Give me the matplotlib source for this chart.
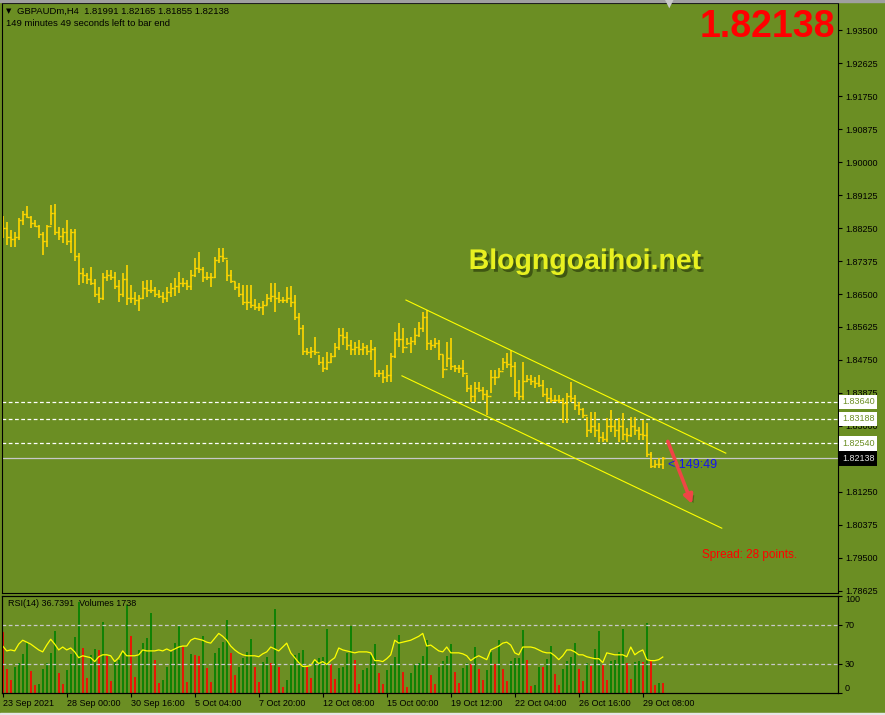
import numpy as np
import matplotlib
matplotlib.use("Agg")
import matplotlib.pyplot as plt
from matplotlib import patheffects
from matplotlib.patches import Rectangle

plt.rcParams['font.family'] = ['Liberation Sans', 'DejaVu Sans']

# GBPAUDm H4 bars (bar index 0 = 23 Sep 2021)
highs = [
    1.8857, 1.8841, 1.8820, 1.8814, 1.8852, 1.8870, 1.8883, 1.8857, 1.8846, 1.8833,
    1.8814, 1.8833, 1.8886, 1.8889, 1.8828, 1.8825, 1.8846, 1.8822, 1.8822, 1.8759,
    1.8719, 1.8706, 1.8722, 1.8690, 1.8669, 1.8706, 1.8714, 1.8714, 1.8708, 1.8687,
    1.8706, 1.8727, 1.8674, 1.8655, 1.8647, 1.8684, 1.8687, 1.8687, 1.8669, 1.8661,
    1.8655, 1.8669, 1.8679, 1.8692, 1.8708, 1.8692, 1.8687, 1.8714, 1.8746, 1.8761,
    1.8722, 1.8708, 1.8706, 1.8748, 1.8772, 1.8772, 1.8740, 1.8714, 1.8682, 1.8679,
    1.8674, 1.8674, 1.8674, 1.8637, 1.8626, 1.8631, 1.8650, 1.8679, 1.8679, 1.8655,
    1.8642, 1.8669, 1.8671, 1.8647, 1.8600, 1.8568, 1.8507, 1.8509, 1.8536, 1.8488,
    1.8483, 1.8496, 1.8494, 1.8520, 1.8560, 1.8560, 1.8549, 1.8528, 1.8523, 1.8528,
    1.8520, 1.8515, 1.8528, 1.8509, 1.8449, 1.8449, 1.8462, 1.8494, 1.8549, 1.8573,
    1.8560, 1.8533, 1.8536, 1.8560, 1.8576, 1.8602, 1.8608, 1.8528, 1.8533, 1.8528,
    1.8488, 1.8523, 1.8533, 1.8462, 1.8462, 1.8475, 1.8435, 1.8409, 1.8417, 1.8417,
    1.8403, 1.8395, 1.8449, 1.8449, 1.8454, 1.8480, 1.8494, 1.8502, 1.8470, 1.8422,
    1.8470, 1.8435, 1.8435, 1.8430, 1.8435, 1.8422, 1.8401, 1.8401, 1.8382, 1.8382,
    1.8374, 1.8387, 1.8417, 1.8382, 1.8364, 1.8348, 1.8324, 1.8337, 1.8337, 1.8308,
    1.8284, 1.8321, 1.8342, 1.8316, 1.8321, 1.8334, 1.8295, 1.8324, 1.8324, 1.8297,
    1.8316, 1.8308, 1.8231, 1.8210, 1.8215, 1.82165,
]
lows = [
    1.8799, 1.8780, 1.8775, 1.8775, 1.8793, 1.8833, 1.8852, 1.8825, 1.8828, 1.8799,
    1.8753, 1.8775, 1.8833, 1.8806, 1.8793, 1.8785, 1.8780, 1.8759, 1.8738, 1.8674,
    1.8679, 1.8677, 1.8674, 1.8642, 1.8626, 1.8634, 1.8684, 1.8687, 1.8663, 1.8629,
    1.8642, 1.8621, 1.8626, 1.8621, 1.8605, 1.8637, 1.8642, 1.8653, 1.8642, 1.8639,
    1.8626, 1.8629, 1.8642, 1.8645, 1.8653, 1.8669, 1.8661, 1.8661, 1.8695, 1.8706,
    1.8682, 1.8687, 1.8669, 1.8692, 1.8732, 1.8735, 1.8684, 1.8679, 1.8661, 1.8642,
    1.8621, 1.8608, 1.8613, 1.8608, 1.8605, 1.8594, 1.8621, 1.8629, 1.8602, 1.8626,
    1.8626, 1.8626, 1.8616, 1.8581, 1.8541, 1.8488, 1.8488, 1.8480, 1.8488, 1.8462,
    1.8443, 1.8449, 1.8467, 1.8483, 1.8502, 1.8515, 1.8502, 1.8488, 1.8488, 1.8488,
    1.8488, 1.8488, 1.8475, 1.8430, 1.8430, 1.8414, 1.8417, 1.8417, 1.8480, 1.8509,
    1.8494, 1.8515, 1.8494, 1.8515, 1.8536, 1.8549, 1.8502, 1.8502, 1.8507, 1.8475,
    1.8427, 1.8456, 1.8449, 1.8443, 1.8441, 1.8430, 1.8390, 1.8364, 1.8364, 1.8390,
    1.8369, 1.8329, 1.8387, 1.8409, 1.8430, 1.8449, 1.8454, 1.8430, 1.8377, 1.8369,
    1.8369, 1.8417, 1.8409, 1.8401, 1.8403, 1.8377, 1.8364, 1.8361, 1.8364, 1.8361,
    1.8308, 1.8308, 1.8364, 1.8342, 1.8329, 1.8321, 1.8271, 1.8281, 1.8271, 1.8258,
    1.8258, 1.8258, 1.8284, 1.8271, 1.8258, 1.8263, 1.8258, 1.8271, 1.8276, 1.8263,
    1.8263, 1.8218, 1.8189, 1.8189, 1.8189, 1.81855,
]
closes = [
    1.8825, 1.8800, 1.8795, 1.8800, 1.8845, 1.8862, 1.8855, 1.8838, 1.8830, 1.8810,
    1.8790, 1.8830, 1.8865, 1.8815, 1.8805, 1.8815, 1.8790, 1.8815, 1.8750, 1.8705,
    1.8700, 1.8690, 1.8680, 1.8650, 1.8640, 1.8695, 1.8700, 1.8695, 1.8670, 1.8650,
    1.8690, 1.8640, 1.8640, 1.8635, 1.8640, 1.8665, 1.8660, 1.8660, 1.8650, 1.8645,
    1.8640, 1.8655, 1.8665, 1.8670, 1.8680, 1.8680, 1.8670, 1.8700, 1.8720, 1.8715,
    1.8695, 1.8695, 1.8695, 1.8740, 1.8750, 1.8745, 1.8700, 1.8685, 1.8668, 1.8650,
    1.8630, 1.8630, 1.8620, 1.8615, 1.8615, 1.8620, 1.8640, 1.8645, 1.8640, 1.8635,
    1.8635, 1.8640, 1.8630, 1.8590, 1.8560, 1.8500, 1.8495, 1.8500, 1.8495, 1.8470,
    1.8455, 1.8470, 1.8485, 1.8510, 1.8540, 1.8535, 1.8515, 1.8505, 1.8510, 1.8505,
    1.8510, 1.8500, 1.8505, 1.8440, 1.8440, 1.8430, 1.8435, 1.8485, 1.8530, 1.8530,
    1.8510, 1.8520, 1.8525, 1.8540, 1.8560, 1.8590, 1.8520, 1.8515, 1.8520, 1.8490,
    1.8450, 1.8480, 1.8460, 1.8455, 1.8455, 1.8440, 1.8400, 1.8380, 1.8400, 1.8395,
    1.8385, 1.8380, 1.8430, 1.8430, 1.8445, 1.8470, 1.8465, 1.8460, 1.8390, 1.8380,
    1.8420, 1.8425, 1.8420, 1.8415, 1.8410, 1.8385, 1.8375, 1.8370, 1.8370, 1.8370,
    1.8360, 1.8380, 1.8375, 1.8355, 1.8345, 1.8330, 1.8290, 1.8300, 1.8290, 1.8270,
    1.8265, 1.8300, 1.8300, 1.8290, 1.8300, 1.8280, 1.8275, 1.8300, 1.8290, 1.8280,
    1.8275, 1.8225, 1.8195, 1.8200, 1.81991, 1.82138,
]
first_open = 1.8830

rsi = [
    48, 43, 44, 43, 50, 54, 52, 50, 47, 44,
    42, 49, 55, 50, 44, 47, 44, 46, 42, 36,
    38, 37, 36, 32, 37, 39, 39, 38, 32, 36,
    43, 38, 38, 38, 39, 44, 43, 43, 43, 44,
    43, 45, 43, 45, 47, 48, 48, 54, 56, 55,
    54, 52, 51, 56, 61, 58, 54, 48, 44, 41,
    39, 38, 38, 38, 37, 40, 42, 47, 45, 43,
    47, 51, 41, 36, 31, 27, 27, 28, 34, 30,
    32, 29, 33, 36, 46, 44, 43, 42, 41, 42,
    42, 42, 41, 33, 33, 32, 35, 39, 54, 51,
    52, 53, 54, 56, 58, 61, 48, 49, 46, 43,
    42, 47, 41, 41, 41, 40, 38, 33, 36, 38,
    36, 34, 44, 46, 48, 51, 52, 49, 41, 39,
    47, 47, 47, 46, 44, 42, 41, 41, 38, 34,
    38, 44, 44, 42, 39, 39, 37, 36, 35, 35,
    31, 41, 40, 39, 39, 39, 37, 47, 39, 42,
    44, 34, 33, 33, 34, 36.7391,
]
volumes = [
    11400, 4420, 2370, 4730, 5480, 7230, 9530, 4050, 1430, 1620,
    4420, 5480, 7350, 11530, 3740, 1620, 4240, 7230, 10340, 17010,
    8290, 2800, 7040, 8100, 7970, 13270, 6850, 2240, 5790, 6110,
    7660, 16390, 10590, 2870, 7970, 9220, 10150, 14830, 6110, 1740,
    2370, 4860, 7660, 9220, 12460, 8600, 2060, 7230, 7100, 6850,
    10590, 4550, 2060, 7480, 8290, 9530, 13580, 7480, 3300, 4730,
    6420, 7660, 9970, 4730, 2060, 5790, 6730, 5480, 15580, 4730,
    1120, 2370, 5170, 7040, 7350, 7970, 4980, 2680, 6110, 6420,
    6730, 11840, 5360, 2490, 4550, 4730, 7350, 12460, 6110, 1620,
    4240, 4550, 7040, 9100, 3610, 1620, 4240, 5170, 6730, 10780,
    3920, 1000, 3610, 5170, 5610, 6850, 9840, 3300, 1620, 4730,
    5980, 6850, 9100, 3920, 1740, 4550, 5480, 5360, 8470, 4420,
    2370, 4240, 7660, 5360, 9840, 4420, 2240, 5920, 6420, 6540,
    11710, 6110, 1250, 1430, 4860, 4730, 6290, 8720, 3490, 1430,
    4420, 5920, 6600, 9350, 4420, 2180, 5480, 4980, 8160, 11530,
    5170, 2370, 5920, 6110, 7660, 12020, 5610, 2550, 5790, 5920,
    5790, 13080, 5920, 1430, 1800, 1738,
]

date_idx = [0, 16, 32, 48, 64, 80, 96, 112, 128, 144, 160]
date_labels = ["23 Sep 2021", "28 Sep 00:00", "30 Sep 16:00", "5 Oct 04:00", "7 Oct 20:00",
               "12 Oct 08:00", "15 Oct 00:00", "19 Oct 12:00", "22 Oct 04:00",
               "26 Oct 16:00", "29 Oct 08:00"]
# 1.82125 sits under the bid label, so it gets a tick but no text
price_ticks = [1.93500, 1.92625, 1.91750, 1.90875, 1.90000, 1.89125, 1.88250, 1.87375,
               1.86500, 1.85625, 1.84750, 1.83875, 1.83000, 1.82125, 1.81250, 1.80375,
               1.79500, 1.78625]
hidden_tick = 1.82125
levels = [1.83640, 1.83188, 1.82540]
upper_channel = ([100.8, 180.75], [1.8634, 1.8228])
lower_channel = ([99.8, 179.75], [1.8433, 1.8029])
arrow_start = (166.0, 1.8266)
arrow_end = (172.6, 1.8086)

BG = "#6B8E23"
W, H = 885, 715


def fx(x):
    return x / W


def fy(y):
    return 1 - y / H


def style_axes(ax):
    ax.set_facecolor(BG)
    for sp in ax.spines.values():
        sp.set_color("black")
        sp.set_linewidth(0.8)


def draw_price(ax):
    n = len(closes)
    x = np.arange(n)
    opens = np.r_[first_open, closes[:-1]]
    bar_col = "#FFD700"
    ax.vlines(x, lows, highs, color=bar_col, lw=1.2)
    ax.hlines(opens, x - 0.45, x, color=bar_col, lw=1.0)
    ax.hlines(closes, x, x + 0.45, color=bar_col, lw=1.0)

    for lvl in levels:
        ax.axhline(lvl, color="white", lw=0.9, ls=(0, (3, 2)), zorder=1)
    ax.axhline(closes[-1], color="#C8C8C8", lw=0.9, zorder=1)

    ax.plot(*upper_channel, color="#FFFF00", lw=0.8)
    ax.plot(*lower_channel, color="#FFFF00", lw=0.8)

    ax.annotate("", xy=arrow_end, xytext=arrow_start,
                arrowprops=dict(arrowstyle="-|>", color="#F04545", lw=2.6, mutation_scale=13,
                                path_effects=[patheffects.withSimplePatchShadow(
                                    offset=(2, -2), shadow_rgbFace="#2E4410", alpha=0.5)]))
    ax.annotate("< 149:49", xy=(n - 1, closes[-1]), xytext=(5, -7), textcoords="offset pixels",
                ha="left", va="center", fontsize=9, color="#1414F0")

    ax.set_xlim(-0.25, 208.8)
    ax.set_ylim(1.78571, 1.94209)
    ax.set_xticks([])
    ax.yaxis.tick_right()
    ax.set_yticks(price_ticks)
    ax.set_yticklabels(["" if t == hidden_tick else f"{t:.5f}" for t in price_ticks])
    ax.tick_params(axis="y", direction="out", length=3, width=0.8, pad=2,
                   labelsize=6.5, colors="black")

    for lvl in levels:
        ax.annotate(f"{lvl:.5f}", xy=(1, lvl), xycoords=ax.get_yaxis_transform(),
                    xytext=(4, 0), textcoords="offset pixels", ha="left", va="center",
                    fontsize=6.5, color=BG, annotation_clip=False, zorder=10,
                    bbox=dict(boxstyle="square,pad=0.3", fc="white", ec="none"))
    ax.annotate(f"{closes[-1]:.5f}", xy=(1, closes[-1]), xycoords=ax.get_yaxis_transform(),
                xytext=(4, 0), textcoords="offset pixels", ha="left", va="center",
                fontsize=6.5, color="#E0E0E0", annotation_clip=False, zorder=10,
                bbox=dict(boxstyle="square,pad=0.3", fc="black", ec="none"))


def draw_rsi(ax):
    n = len(volumes)
    x = np.arange(n)
    vol = np.array(volumes)
    up = np.r_[False, vol[1:] > vol[:-1]]
    cols = np.where(up, "#008000", "#FF0000")
    ax.vlines(x, 0, vol, colors=cols, lw=1.2)
    ax.set_ylim(0, 18200)
    ax.set_yticks([])
    ax.set_xlim(-0.25, 208.8)
    ax.set_xticks(date_idx)
    ax.set_xticklabels(date_labels, ha="left")
    ax.tick_params(axis="x", direction="out", length=3, width=0.8, pad=1.5,
                   labelsize=6.5, colors="black")

    ar = ax.twinx()
    ar.plot(x, rsi, color="#FFFF00", lw=0.9)
    for lv in (30, 70):
        ar.axhline(lv, color="#C8C8C8", lw=0.9, ls=(0, (3, 2)))
    ar.set_ylim(0, 100)
    ar.set_yticks([0, 30, 70, 100])
    ar.set_yticklabels(["0", "30", "70", "100"])
    ar.tick_params(axis="y", direction="out", length=3, width=0.8, pad=2,
                   labelsize=6.5, colors="black")
    for lbl in ar.get_yticklabels():
        if lbl.get_text() == "100":
            lbl.set_va("top")
        elif lbl.get_text() == "0":
            lbl.set_va("bottom")
    for sp in ar.spines.values():
        sp.set_color("black")
        sp.set_linewidth(0.8)

    ax.text(0.007, 0.92, f"RSI(14) {rsi[-1]:.4f}  Volumes {volumes[-1]}",
            transform=ax.transAxes, fontsize=6.5, va="center", ha="left")


def main():
    fig = plt.figure(figsize=(W / 100, H / 100), dpi=100, facecolor=BG)

    ax = fig.add_axes([fx(1.7), fy(593), fx(838) - fx(1.7), fy(3.3) - fy(593)])
    style_axes(ax)
    draw_price(ax)

    ax_rsi = fig.add_axes([fx(1.7), fy(692.7), fx(838) - fx(1.7), fy(595.5) - fy(692.7)])
    style_axes(ax_rsi)
    draw_rsi(ax_rsi)

    # window chrome
    fig.patches.append(Rectangle((0, fy(2)), 1, 2 / H, transform=fig.transFigure,
                                 color="#A0A0A0", zorder=0))
    fig.patches.append(Rectangle((0, 0), 1, 2 / H, transform=fig.transFigure,
                                 color="#E6E6E6", zorder=0))
    fig.text(fx(669), fy(4), "\u25BC", color="#C8C8C8", fontsize=8, ha="center", va="center",
             family="DejaVu Sans")

    # header lines
    last_open = closes[-2]
    fig.text(fx(6), fy(11), "\u25BC", fontsize=5, ha="left", va="center", family="DejaVu Sans")
    fig.text(fx(17), fy(11),
             f"GBPAUDm,H4  {last_open:.5f} {highs[-1]:.5f} {lows[-1]:.5f} {closes[-1]:.5f}",
             fontsize=6.8, ha="left", va="center")
    fig.text(fx(6), fy(24), "149 minutes 49 seconds left to bar end", fontsize=6.8,
             ha="left", va="center")

    fig.text(fx(835), fy(27), f"{closes[-1]:.5f}", color="#FF0000", fontsize=27,
             fontweight="bold", ha="right", va="center")

    fig.text(fx(585), fy(262), "Blogngoaihoi.net", color="#E8F020", fontsize=20.5,
             fontweight="bold", ha="center", va="center",
             path_effects=[patheffects.withSimplePatchShadow(offset=(2, -2),
                                                             shadow_rgbFace="#34480E", alpha=0.8)])

    fig.text(fx(702), fy(555), "Spread: 28 points.", color="#FF0000", fontsize=8.5,
             ha="left", va="center")

    fig.savefig("out.png", dpi=100, facecolor=BG)
    plt.close(fig)


if __name__ == "__main__":
    main()
